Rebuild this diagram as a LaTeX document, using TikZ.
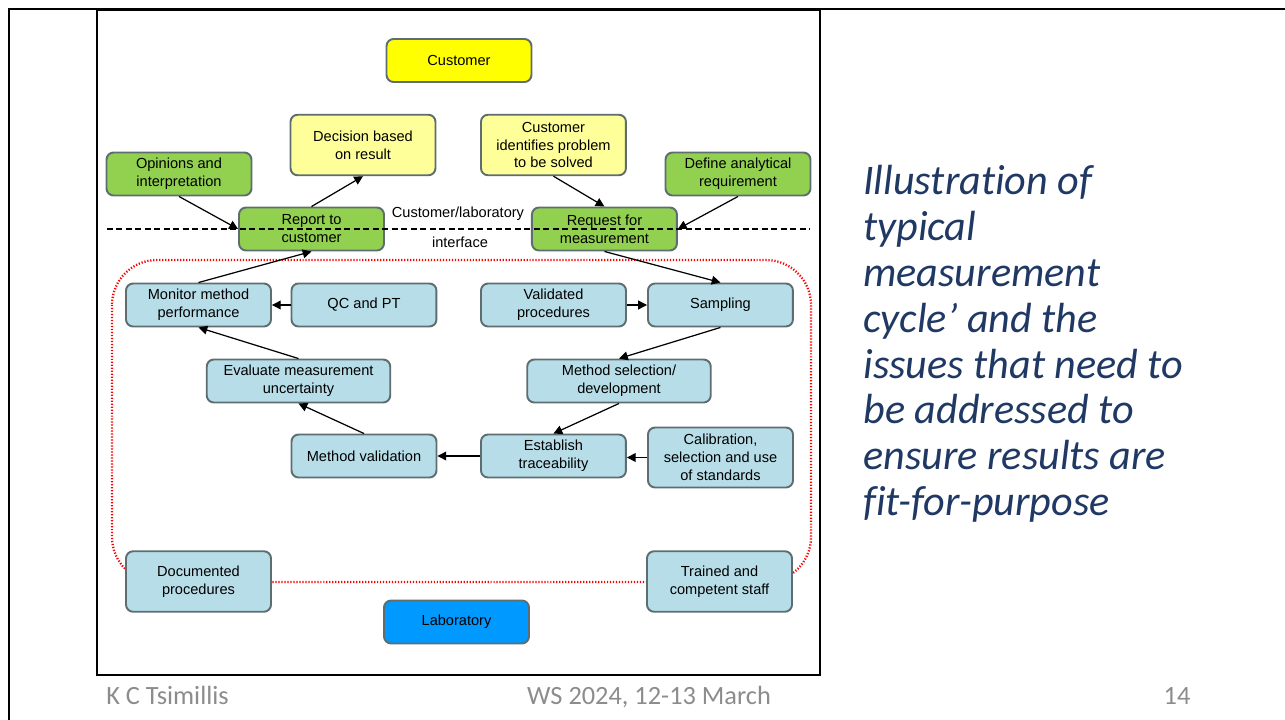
\documentclass[tikz,border=0pt]{standalone}
\usepackage{fontspec}
\setmainfont{Liberation Sans}
\newfontfamily\calibri[Ligatures=NoCommon]{Carlito}
\usetikzlibrary{arrows.meta, positioning}

\definecolor{custyellow}{HTML}{FFFF00}
\definecolor{paleyellow}{HTML}{FFFF99}
\definecolor{leafgreen}{HTML}{92D050}
\definecolor{paleblue}{HTML}{B7DEE8}
\definecolor{labblue}{HTML}{0099FF}
\definecolor{boxedge}{HTML}{5E6D70}
\definecolor{navy}{HTML}{1F3864}
\definecolor{footgray}{HTML}{8C8C8C}

\tikzset{
  box/.style={draw=boxedge, line width=1.1pt, rounded corners=4pt, align=center,
    minimum width=2.9cm, minimum height=0.86cm, inner sep=1pt,
    font=\fontsize{8.3}{10.2}\selectfont},
  tall/.style={minimum height=1.21cm},
  wide/.style={minimum width=3.67cm},
  labbox/.style={box, fill=paleblue},
  custbox/.style={box, fill=paleyellow, tall},
  reqbox/.style={box, fill=leafgreen},
  flow/.style={-{Triangle[length=5pt, width=5pt]}, line width=0.7pt},
  footer/.style={text=footgray, font=\calibri\fontsize{15}{18}\selectfont, anchor=base},
}

\begin{document}
\begin{tikzpicture}[x=0.02cm, y=-0.02cm, node distance=2cm, on grid]
    \useasboundingbox (0,0) rectangle (1285,720);

    % slide and picture frames
    \draw[line width=1.7pt] (9,720) -- (9,9) -- (1285,9);
    \draw[line width=0.9pt] (97,10) rectangle (820,675);

    % laboratory boundary
    \draw[red, line width=1.3pt, dash pattern=on 0.7pt off 1pt, rounded corners=0.9cm]
        (112,260) rectangle (811,582);

    % customer side
    \node[box, fill=custyellow] (customer) at (459,60.5) {Customer};
    \node[custbox] (decision) at (363,145) {Decision based\\on result};
    \node[custbox, right=3.81cm of decision] (problem) {Customer\\identifies problem\\to be solved};
    \node[reqbox] (opinions) at (179,174) {Opinions and\\interpretation};
    \node[reqbox] (define) at (738,174) {Define analytical\\requirement};
    \node[reqbox] (report) at (311.5,229) {Report to\\customer};
    \node[reqbox, right=5.86cm of report] (request) {Request for\\measurement};

    % laboratory side
    \node[labbox] (monitor) at (198.5,305) {Monitor method\\performance};
    \node[labbox, right=3.31cm of monitor] (qcpt) {QC and PT};
    \node[labbox] (validated) at (553.5,305) {Validated\\procedures};
    \node[labbox, right=3.34cm of validated] (sampling) {Sampling};
    \node[labbox, wide] (uncert) at (298.5,381) {Evaluate measurement\\uncertainty};
    \node[labbox, wide] (methsel) at (619,381) {Method selection/\\development};
    \node[labbox] (methval) at (364,456) {Method validation};
    \node[labbox, right=3.79cm of methval] (trace) {Establish\\traceability};
    \node[labbox, minimum height=1.2cm] (calib) at (720.5,457.5) {Calibration,\\selection and use\\of standards};
    \node[labbox, tall] (docproc) at (198.5,581.5) {Documented\\procedures};
    \node[labbox, tall] (staff) at (719.5,581.5) {Trained and\\competent staff};
    \node[box, fill=labblue] (laboratory) at (456.5,622) {Laboratory};

    % interface
    \coordinate (ifl) at (107,229);
    \coordinate (ifr) at (810,229);
    \draw[line width=0.7pt, dash pattern=on 3.4pt off 2pt] (ifl) -- (ifr);
    \node[font=\fontsize{8.3}{10}\selectfont] (ifa) at (458,214) {Customer/laboratory};
    \node[font=\fontsize{8.3}{10}\selectfont] (ifb) at (460,242) {interface};

    \draw[flow] (opinions.south) -- (report.west);
    \draw[flow] (report.north) -- (decision.south);
    \draw[flow] (problem.south) -- (request.north);
    \draw[flow] (define.south) -- (request.east);
    \draw[flow] (request.south) -- (sampling.north);
    \draw[flow] (monitor.north) -- (report.south);
    \draw[flow] (qcpt) -- (monitor);
    \draw[flow] (validated) -- (sampling);
    \draw[flow] (sampling.south) -- (methsel.north);
    \draw[flow] (methsel.south) -- (trace.north);
    \draw[flow] (calib.west) -- (calib.west -| trace.east);
    \draw[flow] (trace) -- (methval);
    \draw[flow] (methval.north) -- (uncert.south);
    \draw[flow] (uncert.north) -- (monitor.south);

    % caption and footer
    \node[anchor=north west, inner sep=0pt, align=left, text=navy,
        font=\calibri\itshape\fontsize{24}{26.1}\selectfont] (caption) at (863,165)
        {Illustration of\\typical\\measurement\\cycle’ and the\\issues that need to\\be addressed to\\ensure results are\\fit-for-purpose};
    \node[footer] (author) at (167.5,704) {K C Tsimillis};
    \node[footer] (event) at (649,704) {WS 2024, 12-13 March};
    \node[footer] (page) at (1177,704) {14};

\end{tikzpicture}
\end{document}
